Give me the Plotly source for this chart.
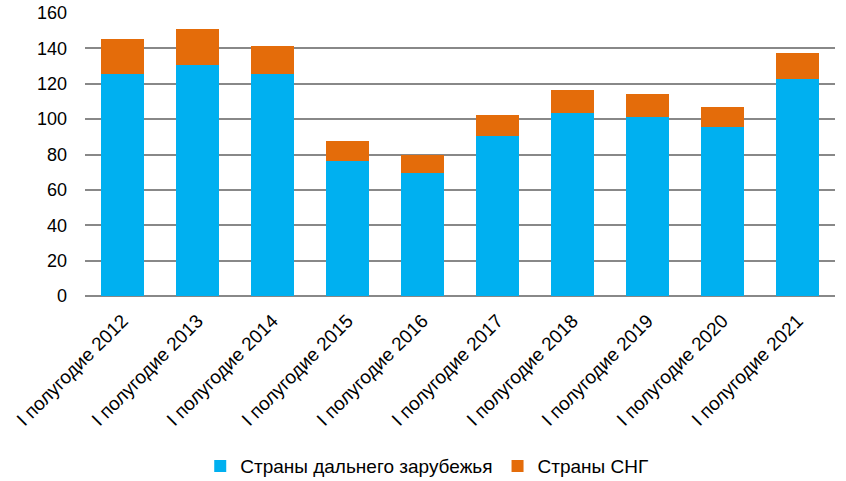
import plotly.graph_objects as go

categories = ["I полугодие 2012", "I полугодие 2013", "I полугодие 2014", "I полугодие 2015",
              "I полугодие 2016", "I полугодие 2017", "I полугодие 2018", "I полугодие 2019",
              "I полугодие 2020", "I полугодие 2021"]
far_abroad = [125.5, 130.7, 125.5, 76.5, 69.7, 90.6, 103.6, 101.4, 95.7, 122.8]
cis = [19.7, 20.0, 15.8, 11.1, 10.2, 11.7, 12.8, 12.8, 11.1, 14.6]
y_ticks = [0, 20, 40, 60, 80, 100, 120, 140, 160]

fig = go.Figure()
fig.add_trace(go.Bar(x=categories, y=far_abroad, name="Страны дальнего зарубежья",
                     marker=dict(color="#00B0F0", line=dict(width=0))))
fig.add_trace(go.Bar(x=categories, y=cis, name="Страны СНГ",
                     marker=dict(color="#E46C0A", line=dict(width=0))))

fig.update_layout(
    barmode="stack",
    bargap=0.43,
    width=846, height=481,
    margin=dict(l=85, r=11, t=13, b=185),
    paper_bgcolor="white", plot_bgcolor="white",
    font=dict(family="Liberation Sans, Arial, sans-serif", color="#000000", size=19),
    showlegend=True,
    legend=dict(orientation="h", x=0.505, xref="container", xanchor="center",
                y=0.031, yref="container", yanchor="middle",
                font=dict(size=19), traceorder="normal", itemwidth=30),
    xaxis=dict(tickangle=-45, tickfont=dict(size=19), showgrid=False, showline=False,
               ticks="", automargin=False, ticklabelstandoff=9),
    yaxis=dict(range=[0, 160], tickvals=y_ticks, showgrid=True, gridcolor="#888888",
               gridwidth=1.6, zeroline=True, zerolinecolor="#888888", zerolinewidth=1.6,
               tickfont=dict(size=18), ticks="", ticklabelstandoff=17, automargin=False),
)

fig.write_html("out.html")
